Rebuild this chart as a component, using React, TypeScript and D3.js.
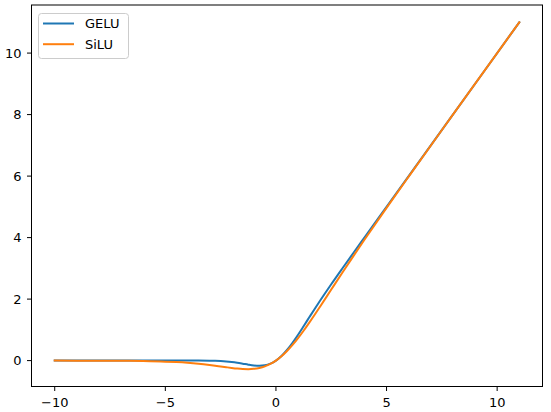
import React from "react";
import * as d3 from "d3";

const xs = [-10, -9, -8, -7, -6, -5, -4.5, -4, -3.5, -3, -2.75, -2.5, -2.25, -2, -1.75, -1.5, -1.25, -1, -0.75, -0.5, -0.25, 0, 0.25, 0.5, 0.75, 1, 1.25, 1.5, 1.75, 2, 2.5, 3, 3.5, 4, 5, 6, 8, 11];
const gelu = [0, 0, 0, 0, 0, -0.0000014, -0.000015, -0.000127, -0.000814, -0.00405, -0.0082, -0.0155, -0.0275, -0.0455, -0.0701, -0.1002, -0.1321, -0.1587, -0.17, -0.1543, -0.1003, 0, 0.1497, 0.3457, 0.58, 0.8413, 1.1179, 1.3998, 1.6799, 1.9545, 2.4845, 2.996, 3.4992, 3.9999, 5, 6, 8, 11];
const silu = [-0.000454, -0.00111, -0.00268, -0.00638, -0.01484, -0.03346, -0.04936, -0.07194, -0.1026, -0.1423, -0.1646, -0.1897, -0.2147, -0.2384, -0.2591, -0.2736, -0.2784, -0.2689, -0.2406, -0.1888, -0.1095, 0, 0.1405, 0.3112, 0.5094, 0.7311, 0.9716, 1.2264, 1.491, 1.7616, 2.3103, 2.8577, 3.3974, 3.9281, 4.9665, 5.9852, 7.9973, 10.9998];
const xTicks = [-10, -5, 0, 5, 10];
const yTicks = [0, 2, 4, 6, 8, 10];
const seriesNames = ["GELU", "SiLU"];
const colors = ["#1f77b4", "#ff7f0e"];

export default function App() {
  const W = 551, H = 412;
  const left = 31.5, right = 542.5, top = 5, bottom = 386.5;
  const xMin = -10, xMax = 11;
  const yMin = d3.min([...gelu, ...silu])!, yMax = d3.max([...gelu, ...silu])!;
  const xm = (xMax - xMin) * 0.05, ym = (yMax - yMin) * 0.05;
  const x = d3.scaleLinear().domain([xMin - xm, xMax + xm]).range([left, right]);
  const y = d3.scaleLinear().domain([yMin - ym, yMax + ym]).range([bottom, top]);
  const line = d3.line<number>().x((_, i) => x(xs[i])).y((d) => y(d)).curve(d3.curveMonotoneX);
  const font = "DejaVu Sans, sans-serif";
  const data = [gelu, silu];
  return (
    <svg width={W} height={H} style={{ position: "absolute", left: 0, top: 0, background: "#fff" }} fontFamily={font}>
      <rect x={0} y={0} width={W} height={H} fill="#fff" />
      <defs>
        <clipPath id="clip"><rect x={left} y={top} width={right - left} height={bottom - top} /></clipPath>
      </defs>
      <g clipPath="url(#clip)">
        {data.map((d, i) => (
          <path key={i} d={line(d) || ""} fill="none" stroke={colors[i]} strokeWidth={2} strokeLinejoin="round" strokeLinecap="square" />
        ))}
      </g>
      <rect x={left} y={top} width={right - left} height={bottom - top} fill="none" stroke="#000" strokeWidth={1} />
      {xTicks.map((t) => (
        <g key={t}>
          <line x1={x(t)} x2={x(t)} y1={bottom} y2={bottom + 4.5} stroke="#000" strokeWidth={1} />
          <text x={x(t)} y={406.5} textAnchor="middle" fontSize={13} fill="#000">{t < 0 ? "\u2212" + Math.abs(t) : t}</text>
        </g>
      ))}
      {yTicks.map((t) => (
        <g key={t}>
          <line x1={left - 4.5} x2={left} y1={y(t)} y2={y(t)} stroke="#000" strokeWidth={1} />
          <text x={left - 10} y={y(t)} dy="0.36em" textAnchor="end" fontSize={13} fill="#000">{t}</text>
        </g>
      ))}
      <g>
        <rect x={38.5} y={13.5} width={90} height={45} rx={3} fill="#fff" fillOpacity={0.8} stroke="#ccc" strokeWidth={1} />
        {seriesNames.map((n, i) => (
          <g key={n}>
            <line x1={43} x2={74} y1={23.5 + i * 20.7} y2={23.5 + i * 20.7} stroke={colors[i]} strokeWidth={2} />
            <text x={85} y={23.5 + i * 20.7} dy="0.36em" fontSize={13} fill="#000">{n}</text>
          </g>
        ))}
      </g>
    </svg>
  );
}
